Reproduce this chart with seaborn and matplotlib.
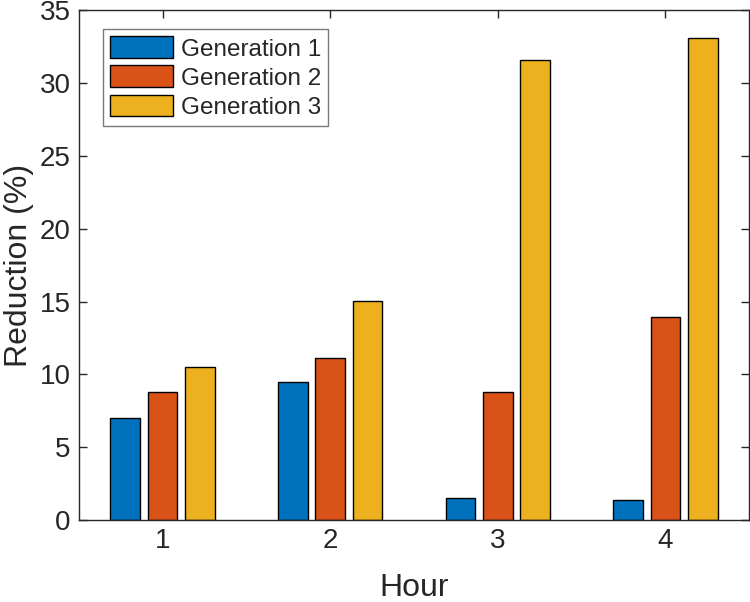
import pandas as pd
import matplotlib
matplotlib.use("Agg")
import matplotlib.pyplot as plt
import seaborn as sns

hours = ["1", "2", "3", "4"]
generations = ["Generation 1", "Generation 2", "Generation 3"]
gen1 = [7.02, 9.49, 1.51, 1.36]
gen2 = [8.80, 11.14, 8.80, 13.96]
gen3 = [10.52, 15.05, 31.57, 33.12]
colors = ["#0072BD", "#D95319", "#EDB120"]

df = pd.DataFrame({
    "Hour": hours * 3,
    "Generation": [g for g in generations for _ in hours],
    "Reduction": gen1 + gen2 + gen3,
})

sns.set_theme(style="white")
plt.rcParams["font.family"] = ["Liberation Sans", "DejaVu Sans"]
dark = "#262626"

fig = plt.figure(figsize=(7.5, 6.02), dpi=100)
ax = fig.add_axes([0.105, 0.136, 0.894, 0.847])

sns.barplot(data=df, x="Hour", y="Reduction", hue="Generation",
            hue_order=generations, palette=colors, width=0.667, gap=0.2,
            edgecolor="black", linewidth=1.0, saturation=1, ax=ax)

ax.set_ylim(0, 35)
ax.set_xlim(-0.5, 3.5)
ax.set_yticks(range(0, 36, 5))
ax.set_xlabel("Hour", fontsize=23, color=dark, labelpad=13)
ax.set_ylabel("Reduction (%)", fontsize=23, color=dark)
ax.yaxis.set_label_coords(-0.066, 0.5)
ax.tick_params(axis="both", labelsize=20, colors=dark, direction="in",
               length=6, width=1, top=True, right=True, bottom=True, left=True,
               pad=6)
for s in ax.spines.values():
    s.set_visible(True)
    s.set_color(dark)
    s.set_linewidth(1)

handles, labels = ax.get_legend_handles_labels()
leg = ax.legend(handles, labels, loc="upper left", bbox_to_anchor=(0.036, 0.963),
                fontsize=17.5, fancybox=False, framealpha=1, edgecolor="#7a7a7a",
                handlelength=2.6, handleheight=1.0, handletextpad=0.3,
                labelspacing=0.2, borderpad=0.3, borderaxespad=0)
leg.get_frame().set_linewidth(1)

fig.savefig("out.png", dpi=100)
